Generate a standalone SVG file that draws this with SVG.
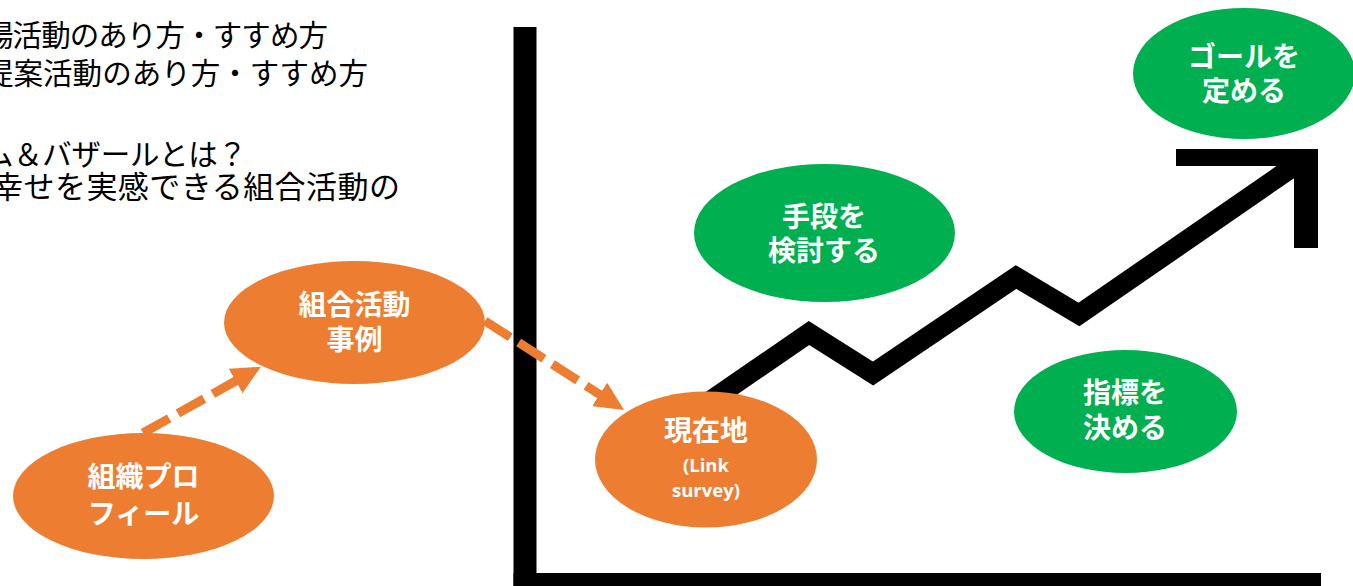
<svg xmlns="http://www.w3.org/2000/svg" width="1353" height="586" viewBox="0 0 1353 586">
  <style>
    .bg { fill: #ffffff; }
    .axis { fill: #000000; }
    .trend { fill: none; stroke: #000000; stroke-width: 20; stroke-linejoin: miter; stroke-miterlimit: 10; }
    .orange { fill: #ED7D31; }
    .green { fill: #00B050; }
    .label { fill: #ffffff; font-family: "Noto Sans CJK JP", "Noto Sans", sans-serif; font-weight: bold; font-size: 28px; text-anchor: middle; }
    .small { fill: #ffffff; font-family: "Open Sans", "Liberation Sans", sans-serif; font-weight: bold; font-size: 18.5px; text-anchor: middle; }
    .note { fill: #000000; font-family: "Noto Sans CJK JP", "Noto Sans", sans-serif; font-weight: normal; font-size: 29.5px; }
    .dash { fill: none; stroke: #ED7D31; stroke-width: 9; stroke-dasharray: 30 10; marker-end: url(#ah); }
  </style>
  <defs>
    <marker id="ah" markerUnits="userSpaceOnUse" viewBox="0 0 30 28" markerWidth="30" markerHeight="28" refX="1" refY="14" orient="auto">
      <path d="M0,0 L29,14 L0,28 Z" fill="#ED7D31"/>
    </marker>
  </defs>
  <rect class="bg" x="0" y="0" width="1353" height="586"/>

  <g id="notes">
    <text class="note" x="-16" y="46" textLength="344" lengthAdjust="spacing">場活動のあり方・すすめ方</text>
    <text class="note" x="-16" y="83.5" textLength="384" lengthAdjust="spacing">提案活動のあり方・すすめ方</text>
    <text class="note" x="-16" y="165" textLength="263" lengthAdjust="spacing">ム＆バザールとは？</text>
    <text class="note" x="-8" y="198" textLength="408" lengthAdjust="spacing" style="font-size:31px">幸せを実感できる組合活動の</text>
  </g>

  <g id="axes">
    <rect class="axis" x="513.5" y="27" width="23" height="559"/>
    <rect class="axis" x="513.5" y="573" width="807.5" height="13"/>
  </g>

  <g id="trend-arrow">
    <polyline class="trend" points="700,408 809,333 873,373.5 1016,277 1079,314.5 1300,162"/>
    <rect class="axis" x="1176" y="149" width="142" height="17"/>
    <rect class="axis" x="1294" y="149" width="24" height="99"/>
  </g>

  <g id="connectors">
    <line class="dash" x1="143" y1="433" x2="236.5" y2="380.5"/>
    <line class="dash" x1="485" y1="321" x2="600.5" y2="395"/>
  </g>

  <g id="node-profile">
    <ellipse class="orange" cx="143.5" cy="496" rx="130.5" ry="63"/>
    <text class="label" x="143.5" y="487">組織プロ</text>
    <text class="label" x="143.5" y="524">フィール</text>
  </g>

  <g id="node-cases">
    <ellipse class="orange" cx="354.5" cy="322.5" rx="130.5" ry="61.5"/>
    <text class="label" x="354.5" y="315">組合活動</text>
    <text class="label" x="354.5" y="350">事例</text>
  </g>

  <g id="node-current">
    <ellipse class="orange" cx="706" cy="459.5" rx="111" ry="68"/>
    <text class="label" x="706" y="441">現在地</text>
    <text class="small" x="706" y="472">(Link</text>
    <text class="small" x="706" y="497">survey)</text>
  </g>

  <g id="node-means">
    <ellipse class="green" cx="824.5" cy="233" rx="130.5" ry="69"/>
    <text class="label" x="824" y="226.5">手段を</text>
    <text class="label" x="824" y="261">検討する</text>
  </g>

  <g id="node-goal">
    <ellipse class="green" cx="1244" cy="73.5" rx="111" ry="65.5"/>
    <text class="label" x="1244" y="66.5">ゴールを</text>
    <text class="label" x="1244" y="100.5">定める</text>
  </g>

  <g id="node-index">
    <ellipse class="green" cx="1125.5" cy="411.5" rx="111.5" ry="61.5"/>
    <text class="label" x="1125" y="403">指標を</text>
    <text class="label" x="1125" y="438">決める</text>
  </g>
</svg>
